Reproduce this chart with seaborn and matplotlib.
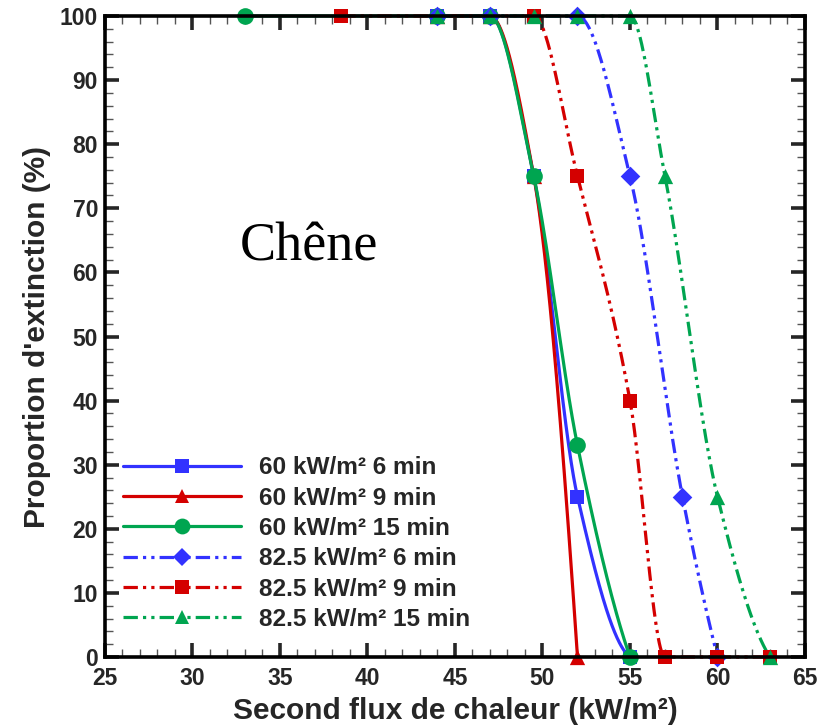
import numpy as np
import pandas as pd
import matplotlib
matplotlib.use("Agg")
import matplotlib.pyplot as plt
from matplotlib.lines import Line2D
from matplotlib.ticker import MultipleLocator
import seaborn as sns

# Extinction proportion (%) versus second heat flux (kW/m²), oak samples
labels = ["60 kW/m² 6 min", "60 kW/m² 9 min", "60 kW/m² 15 min",
          "82.5 kW/m² 6 min", "82.5 kW/m² 9 min", "82.5 kW/m² 15 min"]

x_60_6 = [44, 47, 49.5, 52, 55]
y_60_6 = [100, 100, 75, 25, 0]

x_60_9 = [44, 47, 49.5, 52]
y_60_9 = [100, 100, 75, 0]

x_60_15 = [33, 44, 47, 49.5, 52, 55]
y_60_15 = [100, 100, 100, 75, 33, 0]

x_82_6 = [44, 47, 52, 55, 58, 60]
y_82_6 = [100, 100, 100, 75, 25, 0]

x_82_9 = [38.5, 49.5, 52, 55, 57, 60, 63]
y_82_9 = [100, 100, 75, 40, 0, 0, 0]

x_82_15 = [44, 47, 49.5, 52, 55, 57, 60, 63]
y_82_15 = [100, 100, 100, 100, 100, 75, 25, 0]

xs = [x_60_6, x_60_9, x_60_15, x_82_6, x_82_9, x_82_15]
ys = [y_60_6, y_60_9, y_60_15, y_82_6, y_82_9, y_82_15]

BLUE, RED, GREEN = "#3232ff", "#d40000", "#00a550"
colors = [BLUE, RED, GREEN, BLUE, RED, GREEN]
markers = ["s", "^", "o", "D", "s", "^"]
msizes = [10, 11, 12, 10, 10, 11]
dash_dd = (0, (4.5, 1.6, 1.0, 1.6, 1.0, 1.6))
styles = ["-", "-", "-", dash_dd, dash_dd, dash_dd]


def pchip_curve(x, y, n=400):
    """Monotone cubic (Fritsch-Carlson) curve through the points."""
    x = np.asarray(x, float)
    y = np.asarray(y, float)
    h = np.diff(x)
    delta = np.diff(y) / h
    m = len(x)
    d = np.zeros(m)
    if m == 2:
        d[:] = delta[0]
    else:
        for k in range(1, m - 1):
            if delta[k - 1] * delta[k] <= 0:
                d[k] = 0.0
            else:
                w1 = 2 * h[k] + h[k - 1]
                w2 = h[k] + 2 * h[k - 1]
                d[k] = (w1 + w2) / (w1 / delta[k - 1] + w2 / delta[k])

        def end_slope(h0, h1, d0, d1):
            s = ((2 * h0 + h1) * d0 - h0 * d1) / (h0 + h1)
            if np.sign(s) != np.sign(d0):
                s = 0.0
            elif np.sign(d0) != np.sign(d1) and abs(s) > abs(3 * d0):
                s = 3 * d0
            return s

        d[0] = end_slope(h[0], h[1], delta[0], delta[1])
        d[-1] = end_slope(h[-1], h[-2], delta[-1], delta[-2])

    xx = np.linspace(x[0], x[-1], n)
    idx = np.clip(np.searchsorted(x, xx) - 1, 0, m - 2)
    t = (xx - x[idx]) / h[idx]
    h00 = 2 * t**3 - 3 * t**2 + 1
    h10 = t**3 - 2 * t**2 + t
    h01 = -2 * t**3 + 3 * t**2
    h11 = t**3 - t**2
    yy = (h00 * y[idx] + h10 * h[idx] * d[idx]
          + h01 * y[idx + 1] + h11 * h[idx] * d[idx + 1])
    return xx, yy


sns.set_theme(style="ticks")
plt.rcParams["font.family"] = ["Liberation Sans", "DejaVu Sans"]

fig = plt.figure(figsize=(8.2, 7.27), dpi=100)
ax = fig.add_axes([105 / 820, 1 - 657 / 727, 700 / 820, 641 / 727])

for i in range(6):
    cx, cy = pchip_curve(xs[i], ys[i])
    curve = pd.DataFrame({"x": cx, "y": cy})
    sns.lineplot(data=curve, x="x", y="y", ax=ax, color=colors[i],
                 linewidth=2.3, sort=False, estimator=None, zorder=2)
    ax.lines[-1].set_linestyle(styles[i])
    ax.lines[-1].set_clip_on(False)

for i in range(6):
    pts = pd.DataFrame({"x": xs[i], "y": ys[i]})
    sns.scatterplot(data=pts, x="x", y="y", ax=ax, color=colors[i],
                    marker=markers[i], s=msizes[i] ** 2, linewidth=0,
                    zorder=3, legend=False)
    ax.collections[-1].set_clip_on(False)

ax.set_xlim(25, 65)
ax.set_ylim(0, 100)
ax.xaxis.set_major_locator(MultipleLocator(5))
ax.xaxis.set_minor_locator(MultipleLocator(1))
ax.yaxis.set_major_locator(MultipleLocator(10))
ax.yaxis.set_minor_locator(MultipleLocator(2))
ax.tick_params(which="both", direction="in", top=True, right=True)
ax.tick_params(which="major", length=10, width=2.6, labelsize=16.5)
ax.tick_params(axis="x", which="major", pad=7)
ax.tick_params(axis="y", which="major", pad=5)
ax.tick_params(which="minor", length=6, width=1.0, color="#555555")
for lab in ax.get_xticklabels() + ax.get_yticklabels():
    lab.set_fontweight("bold")
for sp in ax.spines.values():
    sp.set_linewidth(2.6)
    sp.set_color("black")
    sp.set_zorder(5)

ax.set_xlabel("Second flux de chaleur (kW/m²)", fontsize=21.5,
              fontweight="bold", labelpad=5)
ax.set_ylabel("Proportion d'extinction (%)", fontsize=21.5,
              fontweight="bold", labelpad=6)

ax.text(0.193, 0.64, "Chêne", transform=ax.transAxes, fontsize=39,
        family=["Liberation Serif", "DejaVu Serif"], ha="left",
        va="center", color="black")

handles = [Line2D([0], [0], color=colors[i], linestyle=styles[i],
                  linewidth=2.3, marker=markers[i],
                  markersize=msizes[i] * 0.95, markeredgewidth=0)
           for i in range(6)]
leg = ax.legend(handles, labels, loc="upper left",
                bbox_to_anchor=(0.026, 0.313), frameon=False,
                handlelength=4.8, handletextpad=0.74, labelspacing=0.3,
                borderpad=0, borderaxespad=0, markerscale=1.0,
                prop={"family": "Liberation Sans", "weight": "bold",
                      "size": 17.6})

fig.savefig("out.png", dpi=100)
